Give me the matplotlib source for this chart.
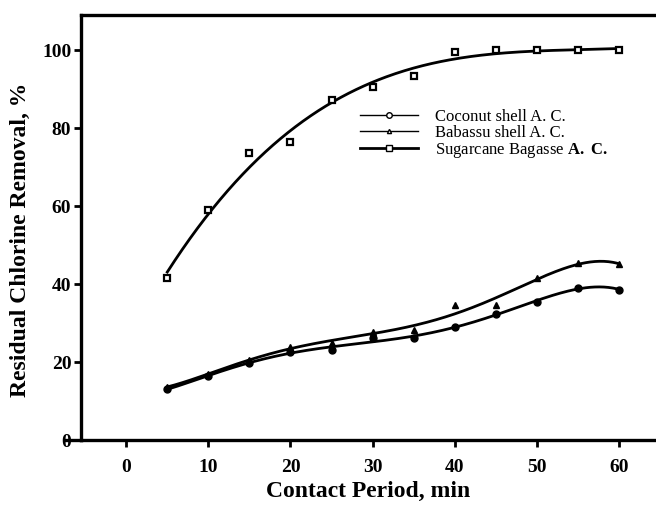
import matplotlib
matplotlib.use("Agg")
import matplotlib.pyplot as plt
from matplotlib.lines import Line2D
import numpy as np

# contact period (min)
contact_time = [5, 10, 15, 20, 25, 30, 35, 40, 45, 50, 55, 60]

# residual chlorine removal (%)
coconut = [13.0, 16.5, 19.8, 22.6, 23.1, 26.1, 26.1, 29.0, 32.3, 35.5, 38.9, 38.6]
babassu = [13.6, 17.0, 20.4, 23.9, 24.9, 27.8, 28.2, 34.6, 34.6, 41.6, 45.3, 45.1]
sugarcane = [41.5, 59.0, 73.7, 76.4, 87.1, 90.5, 93.3, 99.6, 100.0, 100.0, 100.0, 100.0]

labels = ["Coconut shell A. C.", "Babassu shell A. C.",
          r"Sugarcane Bagasse $\mathbf{A.}$ $\mathbf{C.}$"]

plt.rcParams["font.family"] = "Liberation Serif"
plt.rcParams["mathtext.fontset"] = "custom"
plt.rcParams["mathtext.rm"] = "Liberation Serif"
plt.rcParams["mathtext.bf"] = "Liberation Serif:bold"

fig = plt.figure(figsize=(6.56, 5.07), dpi=100)
ax = fig.add_axes([0.1235, 0.1321, 0.8765, 0.8383])

x = np.array(contact_time, dtype=float)
xs = np.linspace(x.min(), x.max(), 300)


def smooth(y, deg):
    # smooth trend curve through the measured points
    return np.polyval(np.polyfit(x, y, deg), xs)


ax.plot(xs, smooth(coconut, 5), color="black", lw=2.0)
ax.plot(xs, smooth(babassu, 5), color="black", lw=2.0)
ax.plot(xs, smooth(sugarcane, 3), color="black", lw=2.0)

ax.plot(x, coconut, "o", ms=5, mfc="black", mec="black", ls="none")
ax.plot(x, babassu, "^", ms=5, mfc="black", mec="black", ls="none")
ax.plot(x, sugarcane, "s", ms=5, mfc="white", mec="black", mew=1.6, ls="none")

ax.set_xlim(-5.5, 64.5)
ax.set_ylim(0, 109)
ax.set_xticks([0, 10, 20, 30, 40, 50, 60])
ax.set_yticks([0, 20, 40, 60, 80, 100])

for lab in ax.get_xticklabels() + ax.get_yticklabels():
    lab.set_fontweight("bold")
    lab.set_fontsize(14)

ax.tick_params(axis="x", direction="out", length=5, width=2, pad=9)
ax.tick_params(axis="y", direction="out", length=5, width=2, pad=2)

ax.spines["right"].set_visible(False)
for s in ["left", "top", "bottom"]:
    ax.spines[s].set_linewidth(2.4)

# small stub of the bottom axis to the left of the y axis
ax.plot([-7.3, -5.5], [0, 0], color="black", lw=2.4, clip_on=False)

ax.set_xlabel("Contact Period, min", fontsize=17, fontweight="bold", labelpad=3)
ax.set_ylabel("Residual Chlorine Removal, %", fontsize=17, fontweight="bold")
ax.yaxis.set_label_coords(-0.087, 0.47)

handles = [
    Line2D([], [], color="black", lw=1.0, marker="o", ms=4, mfc="white", mec="black"),
    Line2D([], [], color="black", lw=1.0, marker="^", ms=3, mfc="white", mec="black"),
    Line2D([], [], color="black", lw=2.0, marker="s", ms=4, mfc="white", mec="black"),
]
ax.legend(handles, labels, loc="upper left", bbox_to_anchor=(0.485, 0.78),
          frameon=False, fontsize=12, handlelength=3.5, handletextpad=1.0,
          labelspacing=0.0, borderpad=0, borderaxespad=0)

fig.savefig("out.png", dpi=100)
